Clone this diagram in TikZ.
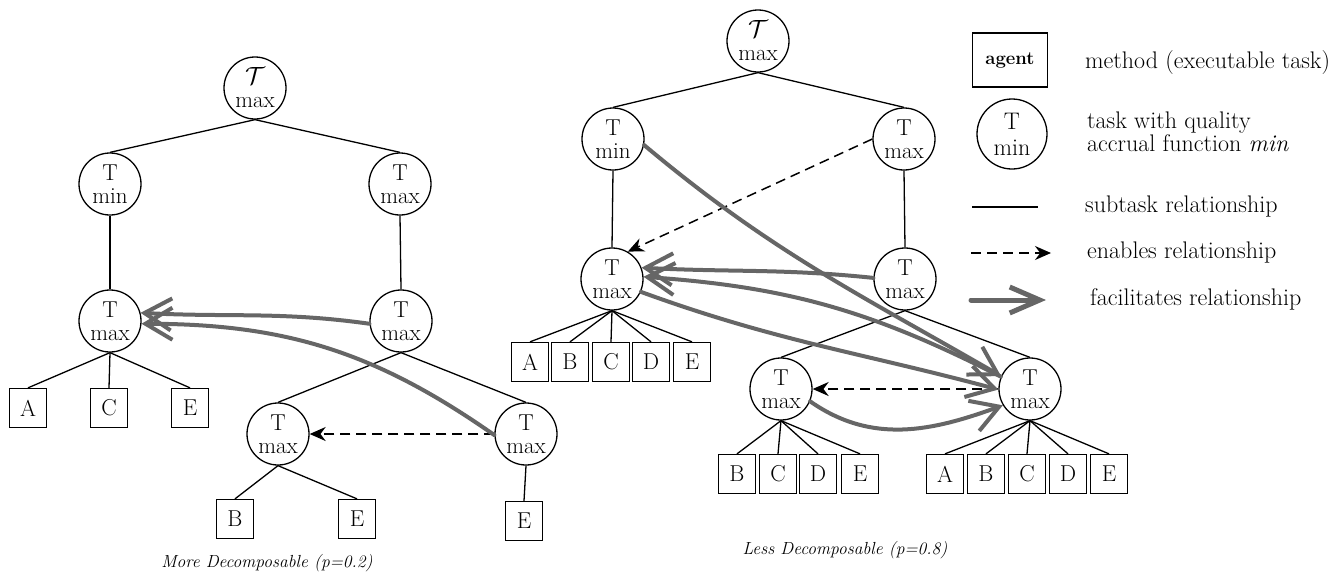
\documentclass[tikz,border=0pt]{standalone}
\usetikzlibrary{arrows.meta}
\tikzset{
  task/.style={circle, draw, line width=1.3pt, minimum size=62pt, inner sep=0pt,
    align=center, font=\fontsize{23}{23}\selectfont},
  meth/.style={rectangle, draw, line width=1.3pt, minimum width=37pt,
    minimum height=39pt, inner sep=0pt, font=\fontsize{23}{23}\selectfont},
  sub/.style={line width=1.3pt},
  enab/.style={line width=1.5pt, dash pattern=on 10pt off 6pt,
    -{Stealth[length=16pt,width=14pt]}},
  facil/.style={line width=4pt, draw=black!60, line cap=round,
    -{Straight Barb[length=27pt,width=32pt]}},
  lbl/.style={anchor=base west, inner sep=0pt, font=\fontsize{24}{28}\selectfont},
  captiontext/.style={inner sep=0pt, font=\fontsize{17.5}{20}\selectfont\itshape}
}
\begin{document}
\begin{tikzpicture}[x=1pt,y=1pt]
\useasboundingbox (0,0) rectangle (1336,-574);

% ---------- left tree ----------
\node[task] (lr)   at (255,-88)  {$\mathcal{T}$\\max};
\node[task] (lmin) at (110,-184) {T\\min};
\node[task] (lmax) at (400,-184) {T\\max};
\node[task] (la)   at (110,-321) {T\\max};
\node[task] (lb)   at (401,-321) {T\\max};
\node[meth] (lA)   at (28,-408)  {A};
\node[meth] (lC)   at (109,-408) {C};
\node[meth] (lE)   at (190,-408) {E};
\node[task] (lc)   at (278,-434) {T\\max};
\node[task] (ld)   at (526,-434) {T\\max};
\node[meth] (lcB)  at (235,-519) {B};
\node[meth] (lcE)  at (357,-519) {E};
\node[meth] (ldE)  at (524,-521) {E};
\node[captiontext] (lcap) at (267,-563) {More Decomposable (p=0.2)};

\draw[sub] (lr.south) -- (lmin.north);
\draw[sub] (lr.south) -- (lmax.north);
\draw[sub] (lmin.south) -- (la.north);
\draw[sub] (lmax.south) -- (lb.north);
\foreach \c in {lA,lC,lE} \draw[sub] (la.south) -- (\c.north);
\draw[sub] (lb.south) -- (lc.north);
\draw[sub] (lb.south) -- (ld.north);
\draw[sub] (lc.south) -- (lcB.north);
\draw[sub] (lc.south) -- (lcE.north);
\draw[sub] (ld.south) -- (ldE.north);

\draw[enab] (ld.west) -- (lc.east);
\draw[facil] (lb.185) to[out=172,in=-3] (la.15);
\draw[facil] (ld.182) to[out=145,in=0] (la.-5);

% ---------- right tree ----------
\node[task] (rr)   at (758,-41)  {$\mathcal{T}$\\max};
\node[task] (rmin) at (613,-139) {T\\min};
\node[task] (rmax) at (904,-139) {T\\max};
\node[task] (ra)   at (612,-279) {T\\max};
\node[task] (rb)   at (905,-279) {T\\max};
\node[meth] (raA)  at (530,-362) {A};
\node[meth] (raB)  at (570,-362) {B};
\node[meth] (raC)  at (611,-362) {C};
\node[meth] (raD)  at (651,-362) {D};
\node[meth] (raE)  at (692,-362) {E};
\node[task] (rc)   at (781,-389) {T\\max};
\node[task] (rd)   at (1030,-389) {T\\max};
\node[meth] (rcB)  at (737,-474) {B};
\node[meth] (rcC)  at (778,-474) {C};
\node[meth] (rcD)  at (818,-474) {D};
\node[meth] (rcE)  at (860,-474) {E};
\node[meth] (rdA)  at (945,-474) {A};
\node[meth] (rdB)  at (986,-474) {B};
\node[meth] (rdC)  at (1027,-474) {C};
\node[meth] (rdD)  at (1068,-474) {D};
\node[meth] (rdE)  at (1109,-474) {E};
\node[captiontext] (rcap) at (845,-550) {Less Decomposable (p=0.8)};

\draw[sub] (rr.south) -- (rmin.north);
\draw[sub] (rr.south) -- (rmax.north);
\draw[sub] (rmin.south) -- (ra.north);
\draw[sub] (rmax.south) -- (rb.north);
\foreach \c in {raA,raB,raC,raD,raE} \draw[sub] (ra.south) -- (\c.north);
\draw[sub] (rb.south) -- (rc.north);
\draw[sub] (rb.south) -- (rd.north);
\foreach \c in {rcB,rcC,rcD,rcE} \draw[sub] (rc.south) -- (\c.north);
\foreach \c in {rdA,rdB,rdC,rdD,rdE} \draw[sub] (rd.south) -- (\c.north);

\draw[enab] (rmax.180) -- (ra.60);
\draw[enab] (rd.west) -- (rc.east);
\draw[facil] (rb.178) to[out=174,in=-3] (ra.21);
\draw[facil] (rd.157) to[out=153,in=-4] (ra.4);
\draw[facil] (rmin.-11) to[out=-40,in=150] (rd.156);
\draw[facil] (ra.-24) to[out=-20,in=165] (rd.181);
\draw[facil] (rc.-23) to[out=-35,in=200] (rd.211);

% ---------- legend ----------
\node[meth, minimum width=75pt, minimum height=54pt,
  font=\fontsize{18.5}{20}\selectfont\bfseries] (lgA) at (1010,-60) {agent};
\node[task, minimum size=70pt, font=\fontsize{24}{26}\selectfont]
  (lgT) at (1012,-134) {T\\min};
\node[lbl] (t1) at (1085,-68)  {method (executable task)};
\node[lbl] (t2) at (1087,-128) {task with quality};
\node[lbl] (t3) at (1087,-151) {accrual function \textit{min}};
\node[lbl] (t4) at (1085,-212) {subtask relationship};
\node[lbl] (t5) at (1087,-258) {enables relationship};
\node[lbl] (t6) at (1090,-305) {facilitates relationship};
\coordinate (s1) at (972,-207);  \coordinate (s2) at (1038,-207);
\coordinate (e1) at (971,-253);  \coordinate (e2) at (1051,-253);
\coordinate (f1) at (971,-300);  \coordinate (f2) at (1046,-300);
\draw[sub] (s1) -- (s2);
\draw[enab] (e1) -- (e2);
\draw[facil, line width=5pt, -{Straight Barb[length=30pt,width=26pt]}] (f1) -- (f2);
\end{tikzpicture}
\end{document}
